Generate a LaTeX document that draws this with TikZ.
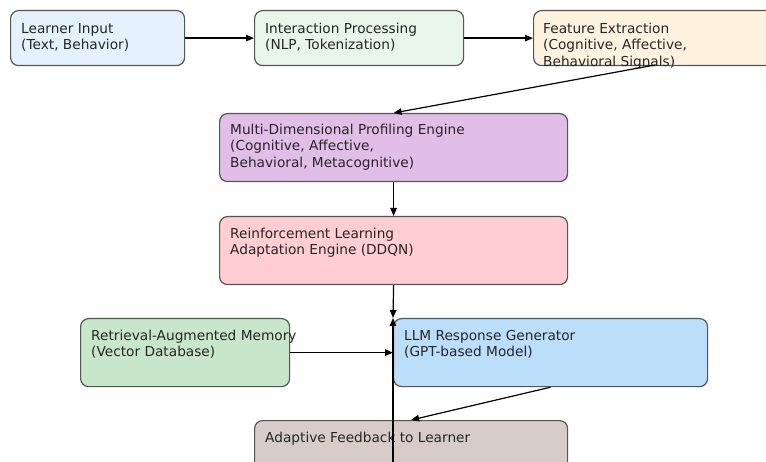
\documentclass[tikz,border=0pt]{standalone}
\usepackage{fontspec}
\setmainfont{DejaVu Sans}
\usetikzlibrary{arrows.meta,calc}
\definecolor{cLearn}{HTML}{E3F2FD}
\definecolor{cInter}{HTML}{E8F5E9}
\definecolor{cFeat}{HTML}{FFF3E0}
\definecolor{cProf}{HTML}{E1BEE7}
\definecolor{cRL}{HTML}{FFCDD2}
\definecolor{cMem}{HTML}{C8E6C9}
\definecolor{cLLM}{HTML}{BBDEFB}
\definecolor{cFeed}{HTML}{D7CCC8}
\definecolor{cBorder}{HTML}{555555}
\definecolor{cText}{HTML}{262626}
\tikzset{
  box/.style={draw=cBorder, line width=1.2pt, rounded corners=8pt, inner sep=0pt, anchor=north west},
  txt/.style={anchor=north west, inner sep=0pt, align=left, text=cText,
    font=\fontsize{13.7}{16.5}\selectfont},
  conn/.style={line width=1.2pt, draw=black, -{Triangle[length=8pt,width=6.5pt]}}
}
\newcommand{\fl}{\rule{0pt}{12pt}}
\begin{document}
\begin{tikzpicture}[x=1pt,y=-1pt]
\clip (0,0) rectangle (766,462);
\useasboundingbox (0,0) rectangle (766,462);
\fill[white] (0,0) rectangle (766,462);
% boxes
\node[box, fill=cLearn, minimum width=174pt, minimum height=55pt] (a1) at (10,10) {};
\node[box, fill=cInter, minimum width=209pt, minimum height=55pt] (a2) at (254,10) {};
\node[box, fill=cFeat, minimum width=287pt, minimum height=55pt] (a3) at (533,10) {};
\node[box, fill=cProf, minimum width=348pt, minimum height=68pt] (a4) at (219,113) {};
\node[box, fill=cRL, minimum width=348pt, minimum height=68pt] (a5) at (219,216) {};
\node[box, fill=cMem, minimum width=209pt, minimum height=68pt] (a6) at (80,318) {};
\node[box, fill=cLLM, minimum width=314pt, minimum height=68pt] (a7) at (393,318) {};
\node[box, fill=cFeed, minimum width=313pt, minimum height=68pt] (a8) at (254,420) {};
% texts
\node[txt] (t1) at ($(a1.north west)+(11,11)$) {\fl Learner Input\\(Text, Behavior)};
\node[txt] (t2) at ($(a2.north west)+(11,11)$) {\fl Interaction Processing\\(NLP, Tokenization)};
\node[txt] (t3) at ($(a3.north west)+(10,11)$) {\fl Feature Extraction\\(Cognitive, Affective,\\Behavioral Signals)};
\node[txt] (t4) at ($(a4.north west)+(11,9)$) {\fl Multi-Dimensional Profiling Engine\\(Cognitive, Affective,\\Behavioral, Metacognitive)};
\node[txt] (t5) at ($(a5.north west)+(11,10)$) {\fl Reinforcement Learning\\Adaptation Engine (DDQN)};
\node[txt] (t6) at ($(a6.north west)+(11,10)$) {\fl Retrieval-Augmented Memory\\(Vector Database)};
\node[txt] (t7) at ($(a7.north west)+(11,10)$) {\fl LLM Response Generator\\(GPT-based Model)};
\node[txt] (t8) at ($(a8.north west)+(11,10)$) {\fl Adaptive Feedback to Learner};
% connectors
\coordinate (p3) at (655,65);
\coordinate (bot) at (393,475);
\draw[conn] (a1.east) -- (a2.west);
\draw[conn] (a2.east) -- (a3.west);
\draw[conn] (p3) -- (a4.north);
\draw[conn] (a4.south) -- (a5.north);
\draw[conn] (a5.south) -- (a7.north west);
\draw[conn] (bot) -- (a7.north west);
\draw[conn] (a6.east) -- (a7.west);
\draw[conn] (a7.south) -- (a8.north);
\end{tikzpicture}
\end{document}
